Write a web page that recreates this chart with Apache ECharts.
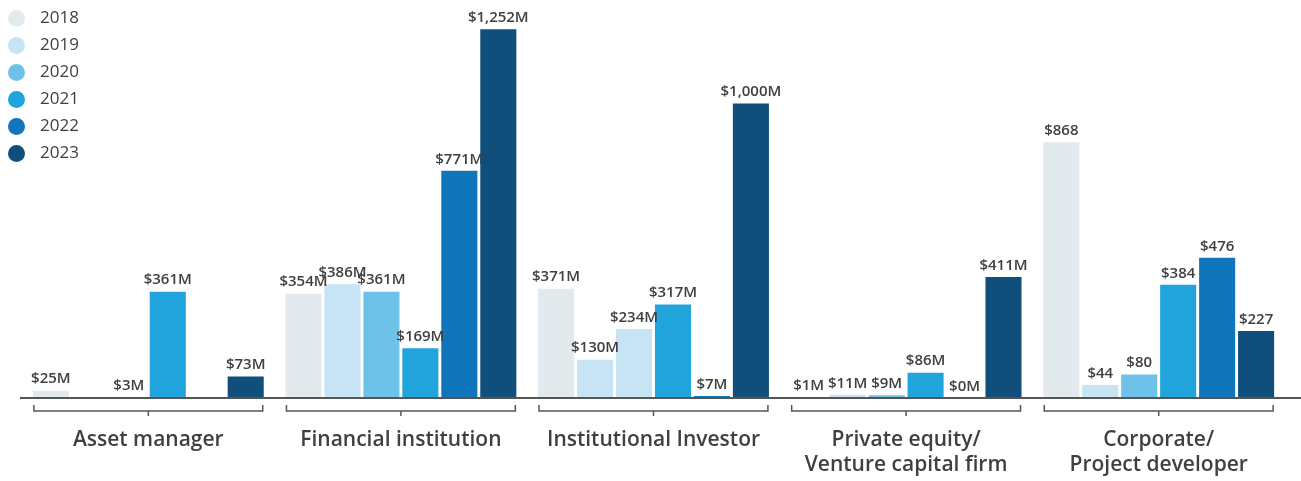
<!DOCTYPE html>
<html>
<head>
<meta charset="utf-8">
<script src="https://cdn.jsdelivr.net/npm/echarts@6/dist/echarts.min.js"></script>
<style>
  html, body { margin: 0; padding: 0; background: #fff; }
  #chart { width: 1301px; height: 481px; }
</style>
</head>
<body>
<div id="chart"></div>
<script>
// investor types
const categories = ['Asset manager', 'Financial institution', 'Institutional Investor',
  'Private equity/\nVenture capital firm', 'Corporate/\nProject developer'];
const years = ['2018', '2019', '2020', '2021', '2022', '2023'];
// value per year, one entry per category (null = no bar)
const v2018 = [25, 354, 371, 1, 868];
const v2019 = [null, 386, 130, 11, 44];
const v2020 = [3, 361, 234, 9, 80];
const v2021 = [361, 169, 317, 86, 384];
const v2022 = [null, 771, 7, 0, 476];
const v2023 = [73, 1252, 1000, 411, 227];
const unitSuffix = ['M', 'M', 'M', 'M', ''];

const colors = ['#e3eaee', '#c6e4f4', '#6ec1e8', '#21a4dc', '#1175bc', '#104f7b'];
const textColor = '#404040';
const catGap = 0.086;

const chart = echarts.init(document.getElementById('chart'));

const seriesData = [v2018, v2019, v2020, v2021, v2022, v2023];
const barSeries = seriesData.map((vals, i) => ({
  name: years[i],
  type: 'bar',
  data: vals.map((v, j) => {
    // the source shows Institutional Investor 2020 in the 2019 shade
    if (i === 2 && j === 2) return { value: v, itemStyle: { color: colors[1] } };
    return v;
  }),
  barGap: '8%',
  barCategoryGap: (catGap * 100) + '%',
  itemStyle: { color: colors[i] },
  label: {
    show: true,
    position: 'top',
    distance: 4,
    color: textColor,
    fontSize: 15,
    fontWeight: 600,
    fontFamily: 'Open Sans',
    formatter: p => '$' + p.value.toLocaleString('en-US') + unitSuffix[p.dataIndex]
  }
}));

// bracket under each category group
const bracketSeries = {
  type: 'custom',
  silent: true,
  clip: false,
  data: categories.map((c, i) => [i, 0]),
  encode: { x: 0, y: 1 },
  renderItem: (params, api) => {
    const p = api.coord([api.value(0), 0]);
    const w = api.size([1, 0])[0];
    const half = w * (1 - catGap) / 2;
    const l = p[0] - half + 1, r = p[0] + half - 1;
    const y = p[1] + 13;
    const style = { stroke: '#555', lineWidth: 1.5, fill: null };
    return {
      type: 'group',
      children: [
        { type: 'polyline', shape: { points: [[l, y - 6], [l, y], [r, y], [r, y - 6]] }, style },
        { type: 'line', shape: { x1: p[0], y1: y, x2: p[0], y2: y + 5 }, style }
      ]
    };
  }
};

chart.setOption({
  animation: false,
  textStyle: { fontFamily: 'Open Sans' },
  color: colors,
  legend: {
    orient: 'vertical',
    left: 3,
    top: 5,
    data: years,
    icon: 'circle',
    itemWidth: 17,
    itemHeight: 17,
    itemGap: 10,
    textStyle: { color: textColor, fontSize: 17, fontFamily: 'Open Sans', padding: [0, 0, 0, 10] }
  },
  grid: { left: 22, right: 16, top: 15, bottom: 83 },
  // baseline runs a bit past the plot on the right
  graphic: [{
    type: 'line',
    z: 10,
    shape: { x1: 20, y1: 398, x2: 1301, y2: 398 },
    style: { stroke: '#555', lineWidth: 2 }
  }],
  xAxis: {
    type: 'category',
    data: categories,
    axisLine: { show: false },
    axisTick: { show: false },
    axisLabel: {
      color: textColor,
      fontSize: 21,
      fontWeight: 600,
      fontFamily: 'Open Sans',
      margin: 30,
      lineHeight: 25,
      interval: 0
    }
  },
  yAxis: {
    type: 'value',
    min: 0,
    max: 1300,
    show: false,
    splitLine: { show: false }
  },
  series: [...barSeries, bracketSeries]
});
</script>
</body>
</html>
